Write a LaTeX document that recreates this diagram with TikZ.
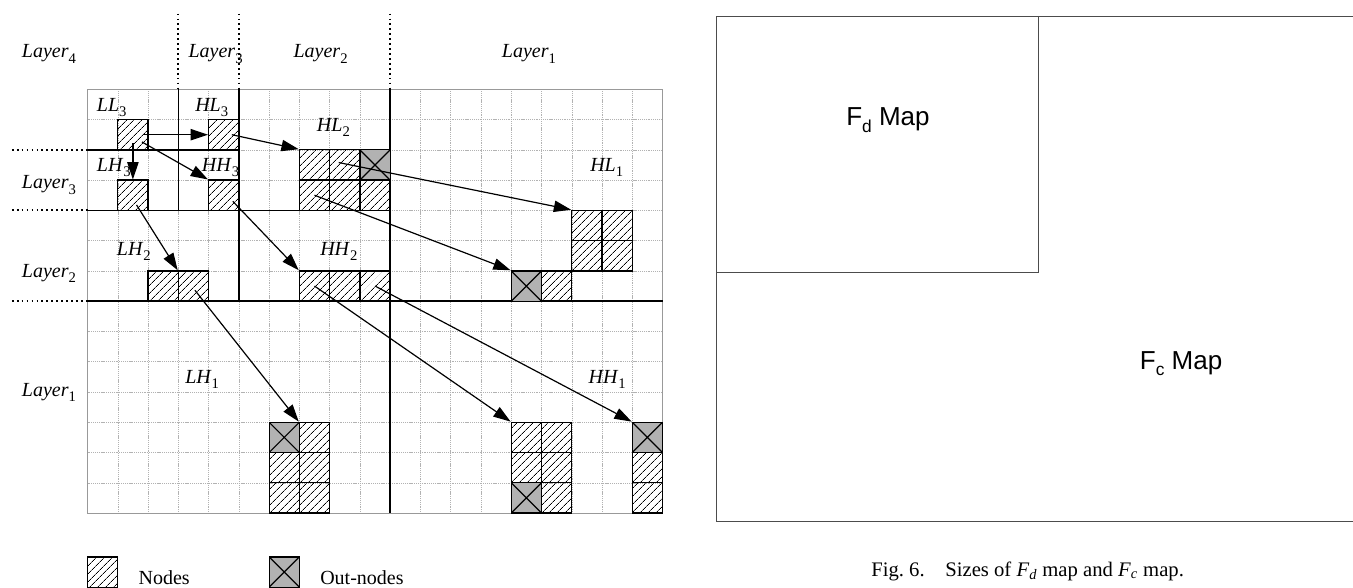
\documentclass[tikz,border=0pt]{standalone}
\usepackage{fontspec}
\setmainfont{Liberation Serif}
\newfontfamily\mapfont{Liberation Sans}
\usetikzlibrary{arrows.meta, patterns.meta}

% italic label with a lowered index
\newcommand{\sublbl}[2]{\textit{#1}\raisebox{-0.55ex}{\fontsize{11}{13}\selectfont #2}}

\begin{document}
\begin{tikzpicture}[x=0.75pt, y=-0.75pt,
  every node/.style={font=\fontsize{15}{17}\selectfont, inner sep=0pt},
  gridline/.style={gray!60, line width=0.4pt, dash pattern=on 0.8pt off 0.6pt},
  bandline/.style={line width=1.2pt},
  bandext/.style={line width=1.3pt, dash pattern=on 1.3pt off 2.4pt},
  nodecell/.style={draw, line width=0.9pt, minimum size=22.7pt,
    pattern={Lines[angle=45, distance=4pt, line width=0.6pt]}},
  outcell/.style={draw, line width=0.9pt, minimum size=22.7pt, fill=gray!60,
    path picture={\draw[line width=0.9pt]
      (path picture bounding box.north west) -- (path picture bounding box.south east)
      (path picture bounding box.south west) -- (path picture bounding box.north east);}},
  arr/.style={-{Triangle[length=13pt, width=8.5pt]}, line width=0.9pt},
  mapline/.style={gray!60!black, line width=0.7pt}]

  \useasboundingbox (0,0) rectangle (1353,588);

  % subband grid, one unit per coefficient
  \begin{scope}[shift={(87.5,89.3)}, x=22.7pt, y=-22.7pt]
    \foreach \i in {0,...,19} \draw[gridline] (\i,0) -- (\i,14);
    \foreach \j in {0,...,14} \draw[gridline] (0,\j) -- (19,\j);
    \draw[gray!80, line width=0.5pt] (0,0) rectangle (19,14);

    \draw[bandline] (0,2) -- (5,2) (0,4) -- (10,4) (0,7) -- (19,7)
                    (3,0) -- (3,4) (5,0) -- (5,7) (10,0) -- (10,14);
    \draw[bandext] (3,-2.5) -- (3,0) (5,-2.5) -- (5,0) (10,-2.5) -- (10,0)
                   (-2.5,2) -- (0,2) (-2.5,4) -- (0,4) (-2.5,7) -- (0,7);

    \foreach \c/\r/\n in {1/1/ll3, 4/1/hl3, 1/3/lh3, 4/3/hh3,
        7/2/hl2a, 8/2/hl2b, 7/3/hl2c, 8/3/hl2d, 9/3/hl2e,
        16/4/hl1a, 17/4/hl1b, 16/5/hl1c, 17/5/hl1d, 15/6/hl1e,
        2/6/lh2a, 3/6/lh2b, 7/6/hh2a, 8/6/hh2b, 9/6/hh2c,
        7/11/lh1b, 6/12/lh1c, 7/12/lh1d, 6/13/lh1e, 7/13/lh1f,
        14/11/hh1a, 15/11/hh1b, 14/12/hh1c, 15/12/hh1d, 15/13/hh1f,
        18/12/hh1h, 18/13/hh1i}
      \node[nodecell] (\n) at (\c+0.5,\r+0.5) {};
    \foreach \c/\r/\n in {9/2/hl2x, 14/6/hl1x, 6/11/lh1a, 14/13/hh1e, 18/11/hh1g}
      \node[outcell] (\n) at (\c+0.5,\r+0.5) {};

    \path[arr]
    ([shift={(0.33,0)}]ll3.center)     edge (hl3.west)
    ([shift={(0,0.28)}]ll3.center)     edge (lh3.north)
    ([shift={(0.3,0.24)}]ll3.center)   edge (hh3.north west)
    ([shift={(0.27,0)}]hl3.center)     edge (hl2a.north west)
    ([shift={(0.12,0.32)}]lh3.center)  edge (lh2b.north west)
    ([shift={(0.3,0.2)}]hh3.center)    edge (hh2a.north west)
    ([shift={(-0.2,-0.08)}]hl2b.center) edge (hl1a.north west)
    (hl2c.center)                      edge (hl1x.north west)
    ([shift={(0.05,0.14)}]lh2b.center) edge (lh1b.north west)
    (hh2a.center)                      edge (hh1a.north west)
    (hh2c.center)                      edge (hh1g.north west)
    ;

    % legend
    \node[nodecell] (keynode) at (0.5,15.95) {};
    \node[outcell]  (keyout)  at (6.5,15.95) {};
  \end{scope}

  \node[anchor=base west] (keynodetxt) at (138.3,584) {Nodes};
  \node[anchor=base west] (keyouttxt)  at (320,584)   {Out-nodes};

  % layer and subband labels
  \node[anchor=base west] (toplay4) at (21.7,58)  {\sublbl{Layer}{4}};
  \node[anchor=base west] (toplay3) at (188.3,58) {\sublbl{Layer}{3}};
  \node[anchor=base west] (toplay2) at (293.3,58) {\sublbl{Layer}{2}};
  \node[anchor=base west] (toplay1) at (501.7,58) {\sublbl{Layer}{1}};
  \node[anchor=base west] (sidelay3) at (21.7,189) {\sublbl{Layer}{3}};
  \node[anchor=base west] (sidelay2) at (21.7,277) {\sublbl{Layer}{2}};
  \node[anchor=base west] (sidelay1) at (21.7,396) {\sublbl{Layer}{1}};

  \node[anchor=base west] (lblll3) at (96.7,111.7)  {\sublbl{LL}{3}};
  \node[anchor=base west] (lblhl3) at (195,111.7)   {\sublbl{HL}{3}};
  \node[anchor=base west] (lbllh3) at (96.7,171.7)  {\sublbl{LH}{3}};
  \node[anchor=base west] (lblhh3) at (201.7,171.7) {\sublbl{HH}{3}};
  \node[anchor=base west] (lblhl2) at (316.7,131.7) {\sublbl{HL}{2}};
  \node[anchor=base west] (lblhl1) at (590,171.7)   {\sublbl{HL}{1}};
  \node[anchor=base west] (lbllh2) at (116.7,255)   {\sublbl{LH}{2}};
  \node[anchor=base west] (lblhh2) at (320,255)     {\sublbl{HH}{2}};
  \node[anchor=base west] (lbllh1) at (185,383.3)   {\sublbl{LH}{1}};
  \node[anchor=base west] (lblhh1) at (588.3,383.3) {\sublbl{HH}{1}};

  % map sizes
  \draw[mapline] (1353,16) -- (716.7,16) -- (716.7,521.7) -- (1353,521.7);
  \draw[mapline] (1038.3,16) -- (1038.3,272.3) -- (716.7,272.3);
  \node[anchor=base west, font=\mapfont\fontsize{19.5}{22}\selectfont] (fdmap)
    at (846,125.5) {F\raisebox{-0.5ex}{\fontsize{13}{15}\selectfont d} Map};
  \node[anchor=base west, font=\mapfont\fontsize{19.5}{22}\selectfont] (fcmap)
    at (1139.6,369) {F\raisebox{-0.5ex}{\fontsize{13}{15}\selectfont c} Map};

  \node[anchor=base west, font=\fontsize{15.5}{18}\selectfont] (caption) at (871,576)
    {Fig.~6.\quad Sizes of \textit{F}\textsubscript{\textit{d}} map and
     \textit{F}\textsubscript{\textit{c}} map.};
\end{tikzpicture}
\end{document}
